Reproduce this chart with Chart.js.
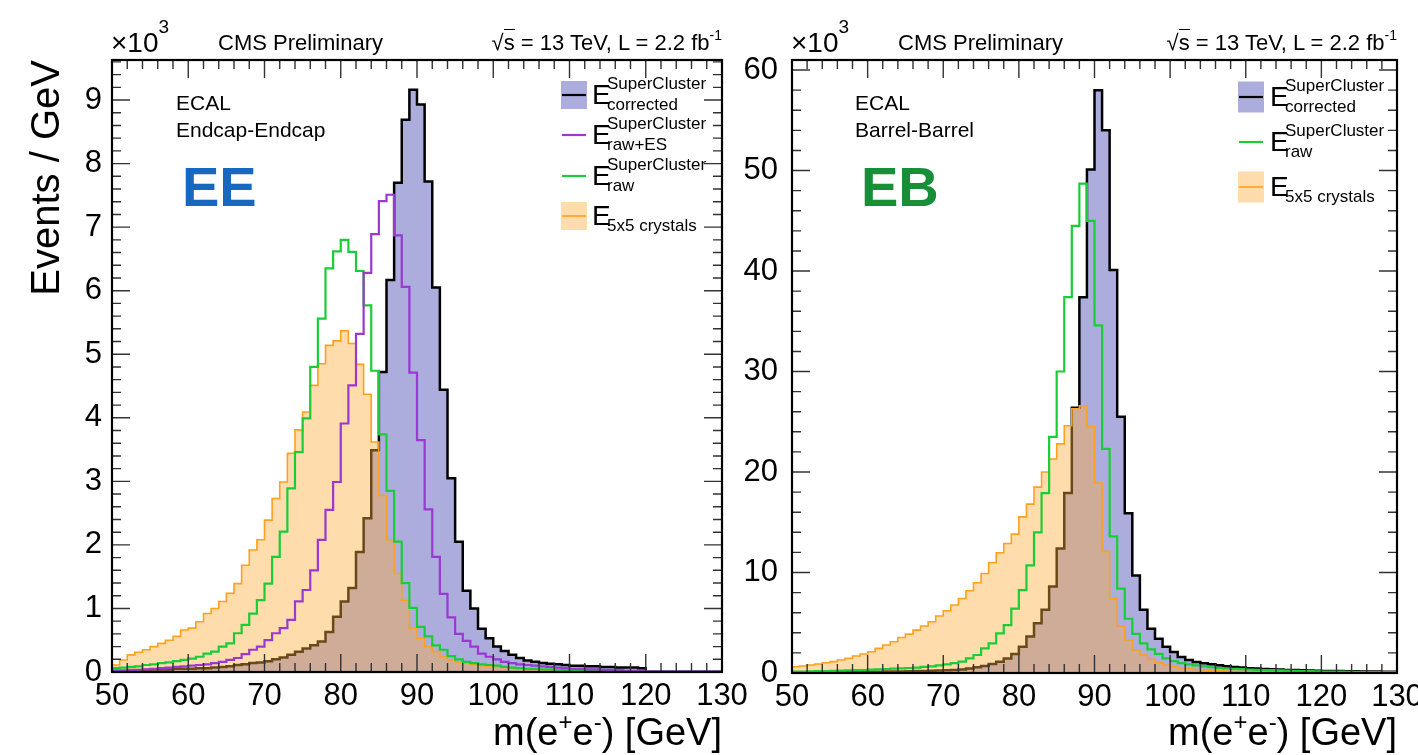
<!DOCTYPE html>
<html>
<head>
<meta charset="utf-8">
<script src="https://cdn.jsdelivr.net/npm/chart.js@4.4.1/dist/chart.umd.min.js"></script>
<style>
  html, body { margin: 0; padding: 0; background: #fff; overflow: hidden; }
  body { width: 1418px; height: 755px; position: relative; font-family: 'Liberation Sans', Arial, Helvetica, sans-serif; color: #000; }
  canvas { position: absolute; top: 0; }
  #cEE { left: 0; }
  #cEB { left: 740px; }
  .t { position: absolute; white-space: nowrap; line-height: 1; }
  .sup { position: relative; }
</style>
</head>
<body>
<canvas id="cEE" width="760" height="755"></canvas>
<canvas id="cEB" width="678" height="755"></canvas>

<!-- EE panel texts -->
<div class="t" style="left:111px;top:29px;font-size:28px">×10<span class="sup" style="font-size:19px;top:-19px">3</span></div>
<div class="t" style="left:218px;top:32px;font-size:22px">CMS Preliminary</div>
<div class="t" style="right:696px;top:32px;font-size:22px">√<span style="border-top:1.5px solid #000">s</span> = 13 TeV, L = 2.2 fb<span class="sup" style="font-size:14px;top:-10px">-1</span></div>
<div class="t" style="left:176px;top:92px;font-size:21px">ECAL</div>
<div class="t" style="left:176px;top:119px;font-size:21px">Endcap-Endcap</div>
<div class="t" style="left:182px;top:159px;font-size:56px;font-weight:bold;color:#1768c0">EE</div>

<div class="t" style="left:592px;top:81px;font-size:28px">E</div>
<div class="t" style="left:607px;top:75px;font-size:17px">SuperCluster</div>
<div class="t" style="left:607px;top:96px;font-size:17px">corrected</div>
<div class="t" style="left:592px;top:121px;font-size:28px">E</div>
<div class="t" style="left:607px;top:115px;font-size:17px">SuperCluster</div>
<div class="t" style="left:607px;top:136px;font-size:17px">raw+ES</div>
<div class="t" style="left:592px;top:162px;font-size:28px">E</div>
<div class="t" style="left:607px;top:156px;font-size:17px">SuperCluster</div>
<div class="t" style="left:607px;top:177px;font-size:17px">raw</div>
<div class="t" style="left:592px;top:202px;font-size:28px">E</div>
<div class="t" style="left:607px;top:217px;font-size:17px">5x5 crystals</div>

<div class="t" style="left:25px;top:460px;width:400px;text-align:right;font-size:40px;transform:rotate(-90deg);transform-origin:0 0">Events / GeV</div>
<div class="t" style="right:696px;top:713px;font-size:38px">m(e<span class="sup" style="font-size:24px;top:-15px">+</span>e<span class="sup" style="font-size:24px;top:-15px">-</span>) [GeV]</div>

<!-- EB panel texts -->
<div class="t" style="left:791px;top:29px;font-size:28px">×10<span class="sup" style="font-size:19px;top:-19px">3</span></div>
<div class="t" style="left:898px;top:32px;font-size:22px">CMS Preliminary</div>
<div class="t" style="right:21px;top:32px;font-size:22px">√<span style="border-top:1.5px solid #000">s</span> = 13 TeV, L = 2.2 fb<span class="sup" style="font-size:14px;top:-10px">-1</span></div>
<div class="t" style="left:855px;top:92px;font-size:21px">ECAL</div>
<div class="t" style="left:855px;top:119px;font-size:21px">Barrel-Barrel</div>
<div class="t" style="left:861px;top:159px;font-size:56px;font-weight:bold;color:#178f38">EB</div>

<div class="t" style="left:1270px;top:83px;font-size:28px">E</div>
<div class="t" style="left:1285px;top:77px;font-size:17px">SuperCluster</div>
<div class="t" style="left:1285px;top:98px;font-size:17px">corrected</div>
<div class="t" style="left:1270px;top:128px;font-size:28px">E</div>
<div class="t" style="left:1285px;top:122px;font-size:17px">SuperCluster</div>
<div class="t" style="left:1285px;top:143px;font-size:17px">raw</div>
<div class="t" style="left:1270px;top:173px;font-size:28px">E</div>
<div class="t" style="left:1285px;top:188px;font-size:17px">5x5 crystals</div>

<div class="t" style="right:21px;top:713px;font-size:38px">m(e<span class="sup" style="font-size:24px;top:-15px">+</span>e<span class="sup" style="font-size:24px;top:-15px">-</span>) [GeV]</div>

<script>
// 1 GeV bins from 50 to 130 GeV
const BIN_LO = 50;
const BIN_W = 1;

const xTicks = [50, 60, 70, 80, 90, 100, 110, 120, 130];
const eeYTicks = [0, 1, 2, 3, 4, 5, 6, 7, 8, 9];
const ebYTicks = [0, 10, 20, 30, 40, 50, 60];

// Endcap-Endcap, events / GeV in units of 10^3
const eeCorrected = [
  0.02, 0.02, 0.03, 0.03, 0.03, 0.04, 0.04, 0.04, 0.05, 0.05,
  0.05, 0.06, 0.06, 0.07, 0.08, 0.09, 0.11, 0.12, 0.14, 0.15,
  0.17, 0.20, 0.23, 0.27, 0.32, 0.37, 0.42, 0.48, 0.63, 0.87,
  1.11, 1.32, 1.89, 2.42, 3.49, 4.72, 6.17, 7.70, 8.69, 9.16,
  8.93, 7.72, 6.05, 4.44, 3.05, 2.05, 1.28, 1.00, 0.68, 0.53,
  0.40, 0.33, 0.27, 0.22, 0.18, 0.16, 0.14, 0.13, 0.12, 0.11,
  0.10, 0.10, 0.09, 0.09, 0.08, 0.08, 0.07, 0.07, 0.07, 0.06,
  0, 0, 0, 0, 0, 0, 0, 0, 0, 0
];
const eeRawES = [
  0.02, 0.02, 0.03, 0.03, 0.04, 0.05, 0.06, 0.07, 0.08, 0.09,
  0.10, 0.11, 0.12, 0.14, 0.16, 0.19, 0.22, 0.28, 0.35, 0.40,
  0.50, 0.61, 0.69, 0.82, 1.11, 1.29, 1.60, 2.08, 2.55, 2.99,
  3.91, 4.51, 5.32, 6.28, 6.89, 7.41, 7.51, 6.87, 6.06, 4.71,
  3.65, 2.56, 1.81, 1.23, 0.86, 0.60, 0.49, 0.40, 0.29, 0.24,
  0.20, 0.16, 0.14, 0.12, 0.11, 0.10, 0.09, 0.08, 0.07, 0.06,
  0.05, 0.05, 0.04, 0.04, 0.03, 0.03, 0.03, 0.02, 0.02, 0.02,
  0.01, 0.01, 0.01, 0.01, 0.01, 0.01, 0.01, 0.01, 0.01, 0.01
];
const eeRaw = [
  0.06, 0.07, 0.08, 0.09, 0.11, 0.12, 0.14, 0.15, 0.17, 0.19,
  0.21, 0.24, 0.29, 0.32, 0.40, 0.45, 0.61, 0.74, 0.92, 1.13,
  1.39, 1.81, 2.21, 2.89, 3.46, 3.99, 4.80, 5.56, 6.35, 6.62,
  6.80, 6.61, 6.31, 5.77, 4.74, 3.74, 2.85, 2.05, 1.40, 1.01,
  0.71, 0.56, 0.42, 0.35, 0.25, 0.20, 0.16, 0.14, 0.12, 0.11,
  0.10, 0.08, 0.07, 0.06, 0.05, 0.05, 0.04, 0.04, 0.03, 0.03,
  0.02, 0.02, 0.02, 0.02, 0.02, 0.01, 0.01, 0.01, 0.01, 0.01,
  0.01, 0.01, 0.01, 0.01, 0.01, 0.01, 0.01, 0.01, 0.01, 0.01
];
const ee5x5 = [
  0.11, 0.19, 0.27, 0.31, 0.35, 0.40, 0.45, 0.50, 0.56, 0.66,
  0.69, 0.79, 0.92, 1.00, 1.11, 1.24, 1.39, 1.68, 1.92, 2.08,
  2.39, 2.73, 2.99, 3.44, 3.81, 4.09, 4.51, 4.85, 5.14, 5.21,
  5.37, 5.17, 4.84, 4.37, 3.62, 2.78, 2.08, 1.55, 1.13, 0.69,
  0.53, 0.40, 0.32, 0.24, 0.19, 0.16, 0.14, 0.12, 0.10, 0.09,
  0.08, 0.07, 0.06, 0.05, 0.04, 0.04, 0.03, 0.03, 0.02, 0.02,
  0.01, 0.01, 0.01, 0.01, 0.01, 0.01, 0.01, 0.01, 0.01, 0.01,
  0.01, 0.01, 0.01, 0.01, 0.01, 0.01, 0.01, 0.01, 0.01, 0.01
];

// Barrel-Barrel, events / GeV in units of 10^3
const ebCorrected = [
  0.05, 0.05, 0.06, 0.06, 0.07, 0.08, 0.08, 0.09, 0.10, 0.11,
  0.12, 0.13, 0.14, 0.15, 0.16, 0.18, 0.19, 0.21, 0.23, 0.25,
  0.27, 0.30, 0.36, 0.46, 0.56, 0.70, 0.89, 1.12, 1.45, 1.89,
  2.62, 3.62, 4.94, 6.3, 8.6, 12.4, 17.9, 26.4, 37.4, 50.1,
  58.0, 54.0, 40.1, 25.5, 15.9, 9.7, 6.3, 4.4, 3.4, 2.6,
  2.1, 1.6, 1.3, 1.1, 0.96, 0.86, 0.76, 0.68, 0.60, 0.54,
  0.48, 0.44, 0.40, 0.37, 0.34, 0.31, 0.29, 0.27, 0.25, 0.23,
  0.21, 0.20, 0.19, 0.18, 0.17, 0.16, 0.15, 0.14, 0.13, 0.12
];
const ebRaw = [
  0.13, 0.15, 0.16, 0.18, 0.20, 0.22, 0.24, 0.26, 0.28, 0.30,
  0.33, 0.36, 0.40, 0.43, 0.46, 0.50, 0.53, 0.60, 0.66, 0.76,
  0.86, 0.99, 1.13, 1.46, 1.79, 2.45, 2.95, 3.94, 4.77, 6.4,
  8.25, 10.7, 14.0, 17.9, 23.5, 30.0, 37.4, 44.5, 48.7, 45.0,
  34.6, 22.3, 13.6, 8.4, 5.4, 3.9, 2.95, 2.35, 1.9, 1.46,
  1.19, 0.99, 0.86, 0.75, 0.65, 0.57, 0.50, 0.45, 0.41, 0.38,
  0.35, 0.32, 0.30, 0.28, 0.26, 0.24, 0.22, 0.20, 0.18, 0.16,
  0.15, 0.14, 0.13, 0.12, 0.11, 0.10, 0.10, 0.09, 0.09, 0.08
];
const eb5x5 = [
  0.62, 0.70, 0.80, 0.89, 1.02, 1.13, 1.29, 1.46, 1.69, 1.89,
  2.12, 2.45, 2.78, 3.11, 3.54, 3.87, 4.27, 4.67, 5.10, 5.67,
  6.20, 6.76, 7.42, 8.18, 8.98, 9.90, 10.97, 11.96, 12.89, 13.82,
  15.54, 16.80, 18.5, 20.0, 21.3, 22.8, 24.6, 26.3, 26.6, 24.5,
  18.9, 12.1, 7.4, 4.67, 3.28, 2.29, 1.79, 1.36, 1.03, 0.80,
  0.63, 0.50, 0.42, 0.35, 0.30, 0.26, 0.23, 0.20, 0.18, 0.16,
  0.15, 0.13, 0.12, 0.11, 0.10, 0.09, 0.08, 0.08, 0.07, 0.07,
  0.06, 0.06, 0.05, 0.05, 0.05, 0.04, 0.04, 0.04, 0.03, 0.03
];

const FONT = "'Liberation Sans', Arial, Helvetica, sans-serif";

// translucent fills: lavender blue, light orange, brownish where they overlap
const blueFill = 'rgba(60,60,175,0.42)';
const orangeFill = 'rgba(255,172,55,0.42)';

const BLACK = '#000', PURPLE = 'rgb(155,55,210)', GREEN = 'rgb(25,205,55)', ORANGE = 'rgb(255,160,30)';

// histogram -> step points (left bin edges)
function steps(values) {
  const pts = [{ x: BIN_LO, y: 0 }];
  values.forEach((v, i) => pts.push({ x: BIN_LO + i * BIN_W, y: v }));
  pts.push({ x: BIN_LO + values.length * BIN_W, y: 0 });
  return pts;
}

function hist(label, values, color, width, fill, order) {
  return {
    label, data: steps(values),
    borderColor: color, borderWidth: width,
    backgroundColor: fill || 'transparent',
    fill: fill ? 'origin' : false,
    stepped: 'before', tension: 0, pointRadius: 0,
    borderJoinStyle: 'miter', borderCapStyle: 'butt',
    order
  };
}

// frame + inside ticks on all four sides + legend symbols
function rootStyle(p) {
  return {
    id: 'rootStyle',
    afterDraw(chart) {
      const { ctx, chartArea: a, scales: { x, y } } = chart;
      ctx.save();
      ctx.strokeStyle = '#333';
      ctx.lineWidth = 1.4;
      ctx.beginPath();
      for (let v = 50; v <= 130; v += 2) {
        const px = x.getPixelForValue(v);
        const len = v % 10 === 0 ? 18 : 9;
        ctx.moveTo(px, a.bottom); ctx.lineTo(px, a.bottom - len);
        ctx.moveTo(px, a.top); ctx.lineTo(px, a.top + len);
      }
      for (let i = 0; i * p.yMinor <= y.max + 1e-9; i++) {
        const py = y.getPixelForValue(i * p.yMinor);
        const len = i % 5 === 0 ? 18 : 9;
        ctx.moveTo(a.left, py); ctx.lineTo(a.left + len, py);
        ctx.moveTo(a.right, py); ctx.lineTo(a.right - len, py);
      }
      ctx.stroke();

      ctx.strokeStyle = '#000';
      ctx.lineWidth = 2.2;
      ctx.strokeRect(a.left, a.top, a.right - a.left, a.bottom - a.top);

      p.legend.forEach(e => {
        const x0 = p.legendX, w = 26, h = p.boxH;
        if (e.fill) {
          ctx.fillStyle = e.fill;
          ctx.fillRect(x0, e.y - h / 2, w, h);
        }
        ctx.strokeStyle = e.color;
        ctx.lineWidth = e.width;
        ctx.beginPath();
        ctx.moveTo(x0 + 1, e.y); ctx.lineTo(x0 + w - 1, e.y);
        ctx.stroke();
      });
      ctx.restore();
    }
  };
}

function panel(id, datasets, yTicks, yMax, yMinor, yWidth, padRight, xHeight, yPad, legend) {
  return new Chart(document.getElementById(id), {
    type: 'line',
    data: { datasets },
    options: {
      responsive: false, animation: false, events: [],
      layout: { padding: { top: 60, right: padRight, left: 0, bottom: 0 } },
      plugins: { legend: { display: false }, tooltip: { enabled: false } },
      scales: {
        x: {
          type: 'linear', min: 50, max: 130,
          grid: { display: false, drawTicks: false }, border: { display: false },
          afterBuildTicks: sc => { sc.ticks = xTicks.map(v => ({ value: v })); },
          afterFit: sc => { sc.height = xHeight; sc.paddingLeft = 0; sc.paddingRight = 0; },
          ticks: { autoSkip: false, maxRotation: 0, minRotation: 0, color: '#000', padding: 6,
                   font: { family: FONT, size: 31 } }
        },
        y: {
          type: 'linear', min: 0, max: yMax,
          grid: { display: false, drawTicks: false }, border: { display: false },
          afterBuildTicks: sc => { sc.ticks = yTicks.map(v => ({ value: v })); },
          afterFit: sc => { sc.width = yWidth; sc.paddingTop = 0; sc.paddingBottom = 0; },
          ticks: { color: '#000', padding: yPad, font: { family: FONT, size: 31 } }
        }
      }
    },
    plugins: [rootStyle(Object.assign({ yMinor }, legend))]
  });
}

panel('cEE', [
  hist('E corrected', eeCorrected, BLACK, 2.5, blueFill, 4),
  hist('E 5x5 crystals', ee5x5, ORANGE, 1.6, orangeFill, 3),
  hist('E raw', eeRaw, GREEN, 2.2, null, 2),
  hist('E raw+ES', eeRawES, PURPLE, 2.2, null, 1)
], eeYTicks, 9.63, 0.2, 112, 38, 83, 10, {
  legendX: 561, boxH: 28,
  legend: [
    { y: 95, color: BLACK, width: 2.2, fill: blueFill },
    { y: 135, color: PURPLE, width: 2.2 },
    { y: 176, color: GREEN, width: 2.2 },
    { y: 216, color: ORANGE, width: 1.6, fill: orangeFill }
  ]
});

panel('cEB', [
  hist('E corrected', ebCorrected, BLACK, 2.5, blueFill, 4),
  hist('E 5x5 crystals', eb5x5, ORANGE, 1.6, orangeFill, 3),
  hist('E raw', ebRaw, GREEN, 2.2, null, 2)
], ebYTicks, 61, 2, 52, 21, 82, 14, {
  legendX: 498, boxH: 31,
  legend: [
    { y: 97, color: BLACK, width: 2.2, fill: blueFill },
    { y: 142, color: GREEN, width: 2.2 },
    { y: 187, color: ORANGE, width: 1.6, fill: orangeFill }
  ]
});
</script>
</body>
</html>
